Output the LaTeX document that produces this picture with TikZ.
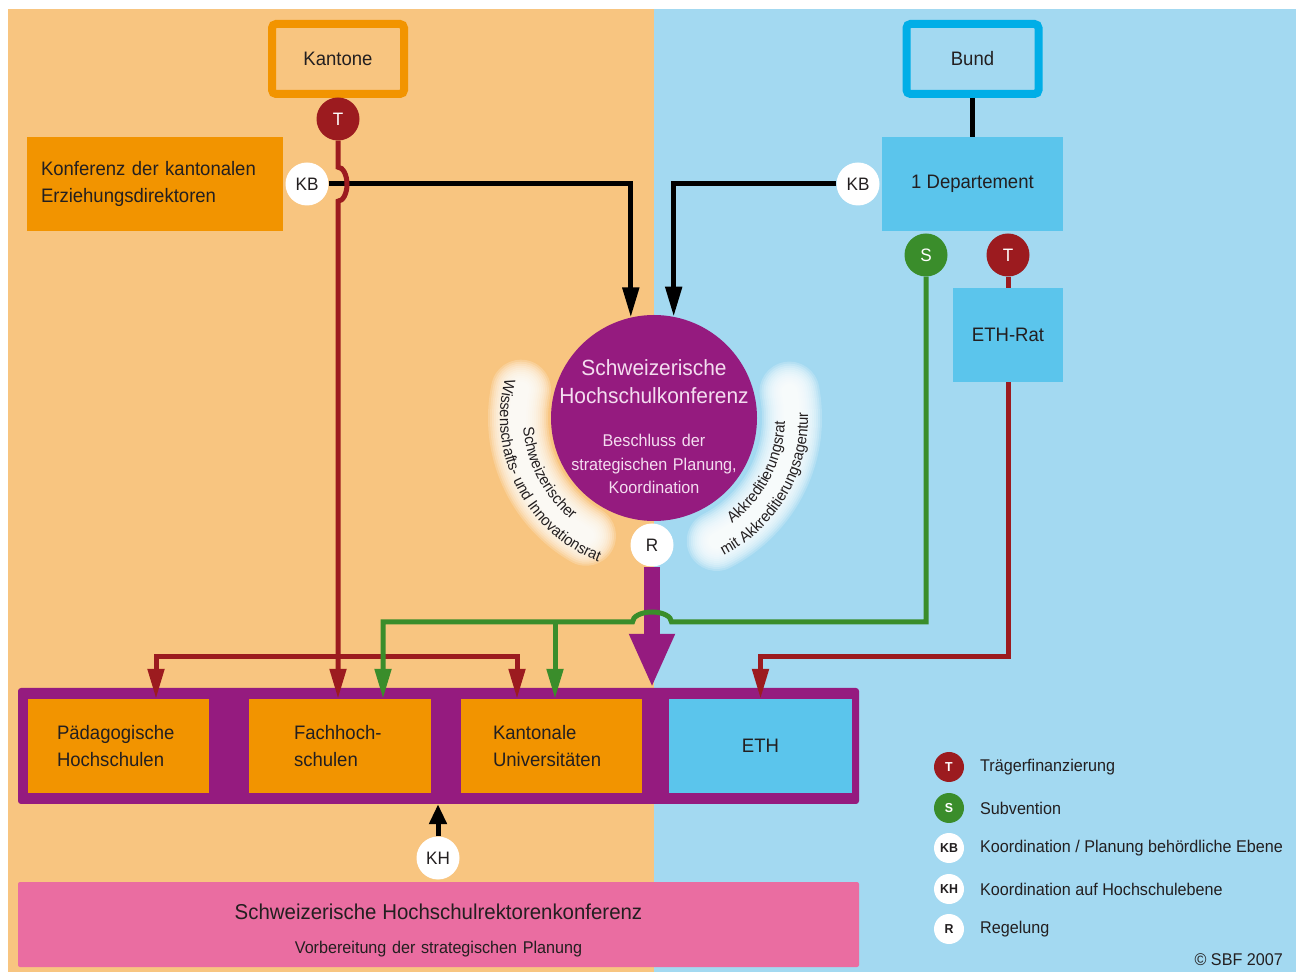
\documentclass[tikz,border=0pt]{standalone}
\usepackage{fontspec}
\setmainfont[FakeStretch=0.95]{Liberation Sans}
\usetikzlibrary{arrows.meta,calc,decorations.text}

\definecolor{peach}{HTML}{F8C580}
\definecolor{skyblue}{HTML}{A3D9F1}
\definecolor{kantorange}{HTML}{F29400}
\definecolor{bundblue}{HTML}{00AEE7}
\definecolor{depblue}{HTML}{5BC5EC}
\definecolor{shkpurple}{HTML}{951B7F}
\definecolor{tred}{HTML}{9C1B1F}
\definecolor{sgreen}{HTML}{3A8D2B}
\definecolor{crusrosa}{HTML}{EA6DA1}
\definecolor{inktext}{HTML}{231F20}
\definecolor{paletext}{HTML}{F4DDF0}
\newcommand{\arclabelfont}{\fontsize{15.5}{15.5}\selectfont}

\begin{document}
\begin{tikzpicture}[x=1pt,y=1pt]

\tikzstyle{box_text} = [font={\fontsize{19.5}{27}\selectfont},text=inktext]
\tikzstyle{frame_box} = [box_text,draw,line width=8pt,rounded corners=4pt,minimum width=132pt,minimum height=70pt]
\tikzstyle{orange_box} = [box_text,fill=kantorange,inner sep=0pt]
\tikzstyle{blue_box} = [box_text,fill=depblue,inner sep=0pt]
\tikzstyle{tag} = [circle,inner sep=0pt,minimum size=43pt,font={\fontsize{18}{18}\selectfont}]
\tikzstyle{red_tag} = [tag,fill=tred,text=white]
\tikzstyle{green_tag} = [tag,fill=sgreen,text=white]
\tikzstyle{white_tag} = [tag,fill=white,text=inktext]
\tikzstyle{legend_tag} = [circle,inner sep=0pt,minimum size=30pt,font={\fontsize{13}{13}\selectfont\bfseries}]
\tikzstyle{legend_text} = [anchor=west,inner sep=0pt,text=inktext,font={\fontsize{17}{17}\selectfont}]
\tikzstyle{glow} = [white,line cap=round,opacity=0.2]
\tikzstyle{arc_text} = [decorate,decoration={text along path,text align=center,text color=inktext}]
\tikzstyle{black_edge} = [draw=black,line width=5pt]
\tikzstyle{black_arrow_edge} = [black_edge,-{Triangle[length=30pt,width=16pt]}]
\tikzstyle{red_edge} = [draw=tred,line width=5pt]
\tikzstyle{red_arrow_edge} = [red_edge,-{Triangle[length=30pt,width=16pt]}]
\tikzstyle{green_edge} = [draw=sgreen,line width=5pt]
\tikzstyle{green_arrow_edge} = [green_edge,-{Triangle[length=30pt,width=16pt]}]
\tikzstyle{purple_arrow_edge} = [draw=shkpurple,line width=16pt,-{Triangle[length=54pt,width=42pt]}]

% Kantone / Bund halves
\useasboundingbox (0,0) rectangle (1298,972);
\fill[peach] (8,0) rectangle (654,963);
\fill[skyblue] (654,0) rectangle (1296,963);

% halo round the conference
\coordinate (shk_mid) at (654,554);
\foreach \w in {16,20,...,60} {
  \draw[glow,line width=\w pt] ($(shk_mid)+(168:136)$) arc[start angle=168,end angle=240,radius=136];
  \draw[glow,line width=\w pt] ($(shk_mid)+(-63:138)$) arc[start angle=-63,end angle=11,radius=138];
}
\path[arc_text,decoration={text={|\arclabelfont|Schweizerischer}}] ($(shk_mid)+(160:131)$) arc[start angle=160,end angle=255,radius=131];
\path[arc_text,decoration={text={|\arclabelfont|Wissenschafts- und Innovationsrat}}] ($(shk_mid)+(150:154)$) arc[start angle=150,end angle=264,radius=154];
\path[arc_text,decoration={text={|\arclabelfont|Akkreditierungsrat}}] ($(shk_mid)+(-75:131)$) arc[start angle=-75,end angle=20,radius=131];
\path[arc_text,decoration={text={|\arclabelfont|mit Akkreditierungsagentur}}] ($(shk_mid)+(-85:154)$) arc[start angle=-85,end angle=24,radius=154];

\node [frame_box,draw=kantorange,fill=peach] (kantone) at (338,913) {Kantone};
\node [frame_box,draw=bundblue,fill=skyblue] (bund) at (972.5,913) {Bund};
\node [red_tag] (t_k) at (338,853) {T};
\node [orange_box,minimum width=256pt,minimum height=94pt,text width=228pt,align=left] (edk) at (155,788) {Konferenz der kantonalen\\Erziehungsdirektoren};
\node [white_tag] (kb_l) at (307,788) {KB};

\node [blue_box,minimum width=181pt,minimum height=94pt] (dep) at (972.5,788) {1 Departement};
\node [white_tag] (kb_r) at (858,788) {KB};
\node [green_tag] (s_d) at (926,717) {S};
\node [red_tag] (t_d) at (1008,717) {T};
\node [blue_box,minimum width=110pt,minimum height=94pt] (eth_rat) at (1008,637) {ETH-Rat};

\node [circle,fill=shkpurple,minimum size=206pt,inner sep=0pt] (shk) at (shk_mid) {};
\node [text=paletext,text width=200pt,align=center,inner sep=0pt,font={\fontsize{17}{23.5}\selectfont}] (shk_text) at (654,545) {{\fontsize{22}{28}\selectfont Schweizerische\\Hochschulkonferenz\par}\vspace{19.5pt}Beschluss der\\strategischen Planung,\\Koordination};
\node [white_tag] (r) at (652,427) {R};

\node [fill=shkpurple,rounded corners=3pt,minimum width=841pt,minimum height=116pt] (bar) at (438.5,226) {};
\node [orange_box,minimum width=181pt,minimum height=94pt,text width=123pt,align=left] (ph) at (118.5,226) {Pädagogische\\Hochschulen};
\node [orange_box,minimum width=182pt,minimum height=94pt,text width=92pt,align=left] (fh) at (340,226) {Fachhoch-\\schulen};
\node [orange_box,minimum width=181pt,minimum height=94pt,text width=117pt,align=left] (ku) at (551.5,226) {Kantonale\\Universitäten};
\node [blue_box,minimum width=183pt,minimum height=94pt] (eth) at (760.5,226) {ETH};

\node [white_tag] (kh) at (438,114) {KH};
\node [fill=crusrosa,rounded corners=2pt,minimum width=841pt,minimum height=85pt] (hrk) at (438.5,47.5) {};
\node [text=inktext,text width=800pt,align=center,inner sep=0pt,font={\fontsize{17}{34}\selectfont}] (hrk_text) at (438.5,42) {{\fontsize{21.5}{26}\selectfont Schweizerische Hochschulrektorenkonferenz\par}Vorbereitung der strategischen Planung};

% legend
\node [legend_tag,fill=tred,text=white] (lg_t) at (949,205) {T};
\node [legend_text] (lg_t_text) at (980,205) {Trägerfinanzierung};
\node [legend_tag,fill=sgreen,text=white] (lg_s) at (949,164) {S};
\node [legend_text] (lg_s_text) at (980,164) {Subvention};
\node [legend_tag,fill=white,text=inktext] (lg_kb) at (949,124) {KB};
\node [legend_text] (lg_kb_text) at (980,124) {Koordination / Planung behördliche Ebene};
\node [legend_tag,fill=white,text=inktext] (lg_kh) at (949,83) {KH};
\node [legend_text] (lg_kh_text) at (980,83) {Koordination auf Hochschulebene};
\node [legend_tag,fill=white,text=inktext] (lg_r) at (949,43) {R};
\node [legend_text] (lg_r_text) at (980,43) {Regelung};
\node [legend_text,anchor=east] (copyright) at (1283,12) {© SBF 2007};

\coordinate (red_fork) at (338,315);
\coordinate (green_fork) at (555,350);

% connectors
\draw [black_arrow_edge] (kb_l.east) -| (shk.103.5);
\draw [black_arrow_edge] (kb_r.west) -| (shk.79);
\draw [black_edge] (bund.south) -- (bund.south |- dep.north);
\draw [red_arrow_edge] (t_k.south) -- ++(0,-26.5) arc[start angle=90,end angle=-90,x radius=9,y radius=17] -- (t_k.south |- fh.north);
\draw [red_arrow_edge] (red_fork) -| (156,0 |- ph.north);
\draw [red_arrow_edge] (red_fork) -| (517,0 |- ku.north);
\draw [red_edge] (t_d.south) -- (eth_rat.north);
\draw [red_arrow_edge] (eth_rat.south) |- (eth.north |- red_fork) -- (eth.north);
\draw [purple_arrow_edge] (r.south) -- (r.south |- bar.north);
\draw [green_arrow_edge] (s_d.south) |- (671.5,350) arc[start angle=0,end angle=180,x radius=19.5,y radius=10] -| (383,0 |- fh.north);
\draw [green_arrow_edge] (green_fork) -- (green_fork |- ku.north);
\draw [black_edge,-{Triangle[length=20pt,width=17pt]}] (kh.north) -- (kh.north |- bar.south);
\end{tikzpicture}
\end{document}
